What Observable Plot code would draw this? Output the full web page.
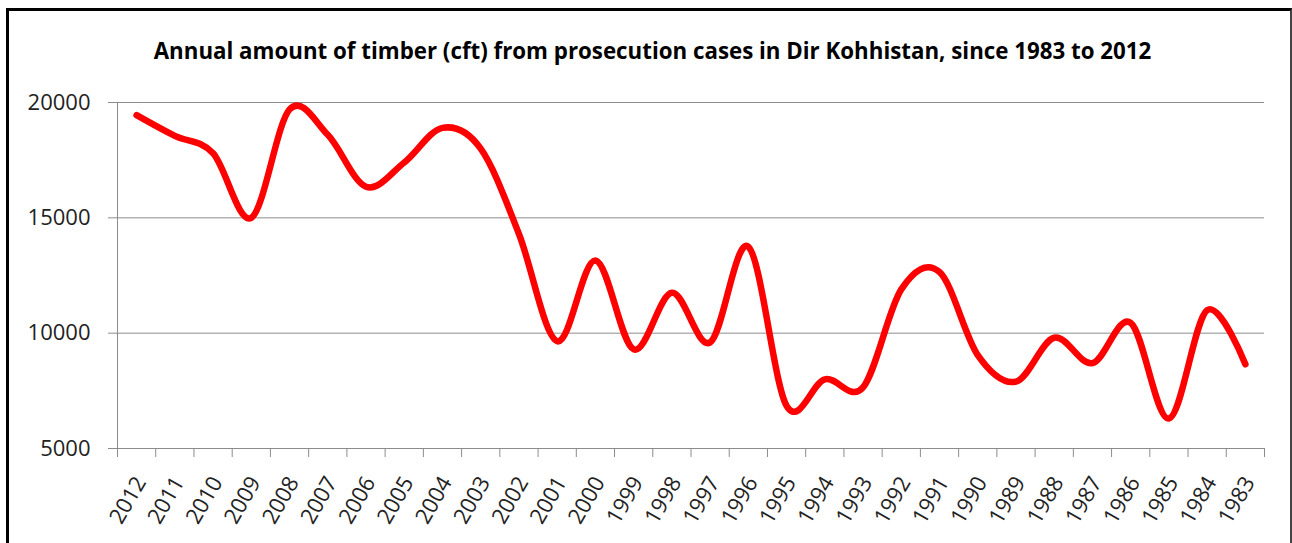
<!DOCTYPE html>
<html>
<head>
<meta charset="utf-8">
<script src="https://cdn.jsdelivr.net/npm/d3@7"></script>
<script src="https://cdn.jsdelivr.net/npm/@observablehq/plot@0.6"></script>
<style>
  html, body { margin: 0; padding: 0; background: #fff; }
  #wrap { position: relative; width: 1292px; height: 543px; overflow: hidden; }
  #frame { position: absolute; left: 6px; top: 8px; width: 1281px; height: 600px;
           border-top: 3px solid #000; border-left: 3px solid #000; border-right: 2px solid #444; }
  #title { position: relative; height: 60px; box-sizing: border-box; padding-top: 40px;
           width: 1305px; text-align: center; font-family: "Open Sans", sans-serif;
           font-weight: 700; font-size: 22.3px; line-height: 22px; color: #000; white-space: nowrap; }
  #chart { position: relative; }
  #chart svg { display: block; }
</style>
</head>
<body>
<div id="wrap">
  <div id="frame"></div>
  <div id="title">Annual amount of timber (cft) from prosecution cases in Dir Kohhistan, since 1983 to 2012</div>
  <div id="chart"></div>
</div>
<script>
const years = ["2012","2011","2010","2009","2008","2007","2006","2005","2004","2003",
               "2002","2001","2000","1999","1998","1997","1996","1995","1994","1993",
               "1992","1991","1990","1989","1988","1987","1986","1985","1984","1983"];
const timber = [19450, 18550, 17800, 15000, 19700, 18600, 16350, 17400, 18900, 18000,
                14300, 9650, 13150, 9300, 11750, 9600, 13750, 6850, 8000, 7650,
                11900, 12650, 9050, 7900, 9800, 8700, 10450, 6300, 11000, 8650];
const yTicks = [5000, 10000, 15000, 20000];

const data = years.map((year, i) => ({i, year, value: timber[i]}));
const idx = d3.range(years.length);
const bounds = d3.range(years.length + 1).map(k => k - 0.5);
const gray = "#8c8c8c";

const chart = Plot.plot({
  width: 1292,
  height: 483,
  marginLeft: 117,
  marginRight: 28,
  marginTop: 42,
  marginBottom: 95,
  x: {domain: [-0.5, years.length - 0.5], axis: null, label: null},
  y: {domain: [5000, 20000], axis: null, label: null},
  style: {fontFamily: "Open Sans, sans-serif", background: "transparent", overflow: "visible"},
  marks: [
    Plot.gridY(yTicks, {stroke: gray, strokeOpacity: 1, strokeWidth: 1}),
    Plot.ruleX([-0.5], {stroke: gray, strokeWidth: 1}),
    Plot.axisY(yTicks, {tickSize: 9, tickPadding: 18, stroke: gray, fill: "#222", fontSize: 22,
                        label: null, tickFormat: d => String(d)}),
    Plot.axisX(bounds, {tickSize: 9, text: null, stroke: gray, label: null}),
    Plot.axisX(idx, {tickSize: 0, tickPadding: 30, tickRotate: -60, fontSize: 22, fill: "#222",
                     dx: 4, label: null, tickFormat: i => years[i]}),
    Plot.lineY(data, {x: "i", y: "value", stroke: "#ff0000", strokeWidth: 6.5,
                      curve: "cardinal", tension: 0})
  ]
});
document.getElementById("chart").appendChild(chart);
</script>
</body>
</html>
